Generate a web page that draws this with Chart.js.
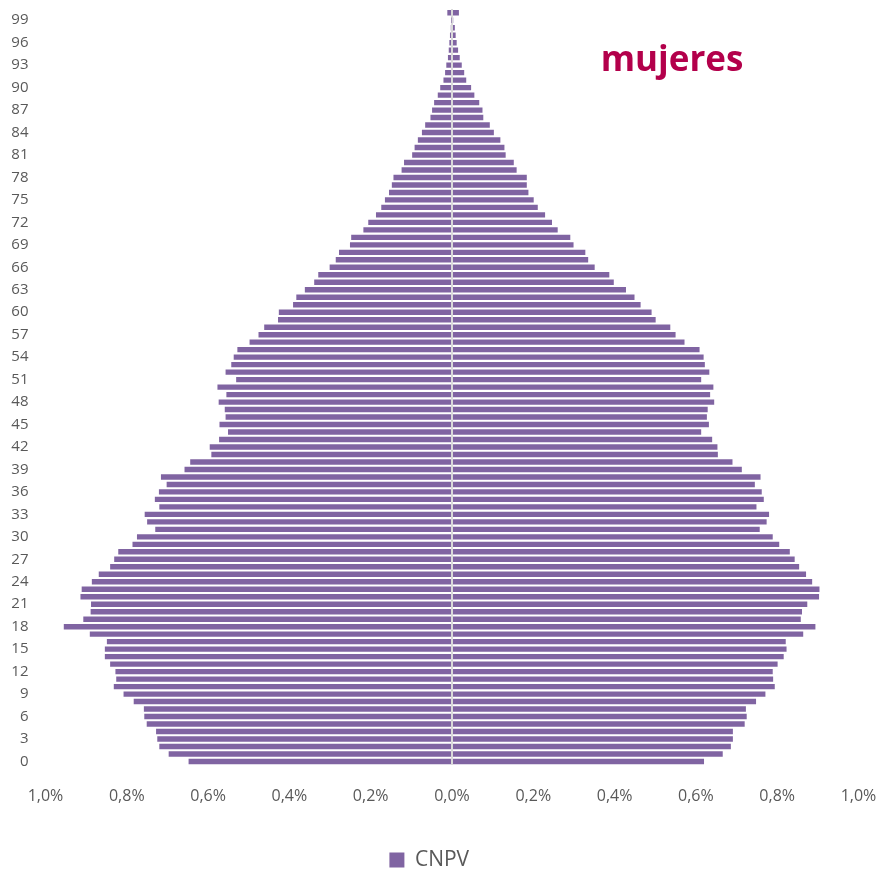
<!DOCTYPE html>
<html>
<head>
<meta charset="utf-8">
<script src="https://cdn.jsdelivr.net/npm/chart.js@4/dist/chart.umd.min.js"></script>
<style>
  html, body { margin: 0; padding: 0; background: #fff; }
  #wrap { width: 882px; height: 871px; position: relative; }
</style>
</head>
<body>
<div id="wrap"><canvas id="myChart" width="882" height="871"></canvas></div>
<script>
// edades simples, 0 a 100 (100 = 100 y más)
const ages = [0,1,2,3,4,5,6,7,8,9,10,11,12,13,14,15,16,17,18,19,20,21,22,23,24,25,26,27,28,29,
  30,31,32,33,34,35,36,37,38,39,40,41,42,43,44,45,46,47,48,49,50,51,52,53,54,55,56,57,58,59,
  60,61,62,63,64,65,66,67,68,69,70,71,72,73,74,75,76,77,78,79,80,81,82,83,84,85,86,87,88,89,
  90,91,92,93,94,95,96,97,98,99,100]

// etiquetas visibles del eje de edades
const ageTicks = [0,3,6,9,12,15,18,21,24,27,30,33,36,39,42,45,48,51,54,57,60,63,66,69,72,75,78,81,84,87,90,93,96,99]

// % de la población total, por edad (lado izquierdo)
const hombres = [0.648,0.697,0.720,0.725,0.728,0.751,0.757,0.758,0.783,0.808,
  0.832,0.826,0.828,0.841,0.854,0.854,0.849,0.891,0.955,0.907,
  0.889,0.888,0.914,0.911,0.886,0.869,0.841,0.831,0.821,0.786,
  0.775,0.730,0.750,0.756,0.720,0.731,0.721,0.702,0.716,0.658,
  0.644,0.592,0.596,0.573,0.551,0.572,0.557,0.559,0.574,0.555,
  0.577,0.531,0.557,0.543,0.537,0.528,0.498,0.476,0.462,0.428,
  0.426,0.391,0.383,0.362,0.339,0.329,0.301,0.286,0.278,0.251,
  0.248,0.218,0.206,0.187,0.174,0.165,0.155,0.148,0.144,0.124,
  0.118,0.098,0.092,0.084,0.074,0.066,0.053,0.049,0.044,0.035,
  0.029,0.021,0.017,0.014,0.010,0.008,0.0065,0.005,0.003,0.001,
  0.0115]

// % de la población total, por edad (lado derecho)
const mujeres = [0.620,0.666,0.686,0.691,0.691,0.720,0.725,0.723,0.748,0.771,
  0.794,0.790,0.789,0.801,0.816,0.823,0.821,0.864,0.894,0.858,
  0.861,0.874,0.903,0.904,0.886,0.871,0.854,0.843,0.831,0.805,
  0.789,0.757,0.774,0.780,0.749,0.767,0.762,0.745,0.759,0.713,
  0.690,0.654,0.653,0.640,0.613,0.632,0.627,0.629,0.645,0.635,
  0.643,0.613,0.633,0.622,0.619,0.609,0.572,0.550,0.537,0.501,
  0.491,0.464,0.449,0.428,0.398,0.387,0.351,0.335,0.328,0.299,
  0.291,0.260,0.246,0.229,0.211,0.201,0.188,0.184,0.184,0.159,
  0.152,0.132,0.129,0.119,0.103,0.093,0.077,0.075,0.067,0.055,
  0.047,0.035,0.030,0.024,0.019,0.015,0.0115,0.009,0.007,0.003,
  0.017]

const barColor = "#8064A2"
const textColor = "#595959"

function fmtPct(v){
    return Math.abs(v).toFixed(1).replace(".", ",") + "%"
}

// titulo "mujeres" dibujado en el canvas
const titlePlugin = {
    id: "titulo",
    afterDraw(chart){
        const ctx = chart.ctx
        ctx.save()
        ctx.font = "bold 35px 'Open Sans'"
        ctx.fillStyle = "#B3004B"
        ctx.textAlign = "center"
        ctx.textBaseline = "alphabetic"
        ctx.fillText("mujeres", 672, 71)
        ctx.restore()
    }
}

// bajar un poco la leyenda
const legendShift = {
    id: "legendShift",
    afterLayout(chart){
        chart.legend.top += 9.5
        chart.legend.bottom += 9.5
    }
}

new Chart("myChart", {
    type: "bar",
    data: {
        labels: ages.map(String),
        datasets: [{
            label: "CNPV",
            data: hombres.map(v => -v),
            backgroundColor: barColor,
            borderWidth: 0,
            barPercentage: 0.72,
            categoryPercentage: 1
        }, {
            label: "CNPV",
            data: mujeres,
            backgroundColor: barColor,
            borderWidth: 0,
            barPercentage: 0.72,
            categoryPercentage: 1
        }]
    },
    plugins: [titlePlugin, legendShift],
    options: {
        indexAxis: "y",
        responsive: false,
        animation: false,
        layout: { padding: { top: 7, right: 23.5, bottom: 0, left: 0 } },
        scales: {
            x: {
                stacked: true,
                min: -1,
                max: 1,
                z: 1,
                border: { display: false },
                grid: {
                    drawTicks: true,
                    tickLength: 21.5,
                    tickColor: "rgba(0,0,0,0)",
                    lineWidth: 2,
                    color: ctx => (ctx.tick && Math.abs(ctx.tick.value) < 1e-9) ? "#D9D9D9" : "rgba(0,0,0,0)"
                },
                ticks: {
                    stepSize: 0.2,
                    padding: 0,
                    color: textColor,
                    font: { family: "'Open Sans'", size: 16 },
                    callback: v => fmtPct(v)
                },
                afterFit: scale => { scale.height = 64.8 }
            },
            y: {
                stacked: true,
                reverse: true,
                border: { display: false },
                grid: {
                    display: true,
                    color: "rgba(0,0,0,0)",
                    drawTicks: true,
                    tickLength: 17,
                    tickColor: "rgba(0,0,0,0)"
                },
                ticks: {
                    autoSkip: false,
                    padding: 0,
                    color: textColor,
                    font: { family: "'Open Sans'", size: 15 },
                    callback: function(v, i){
                        return ageTicks.includes(ages[i]) ? String(ages[i]) : ""
                    }
                },
                afterFit: scale => { scale.width = 45.5 }
            }
        },
        plugins: {
            legend: {
                position: "bottom",
                labels: {
                    color: textColor,
                    font: { family: "'Open Sans'", size: 21 },
                    boxWidth: 15,
                    boxHeight: 15,
                    padding: 10,
                    filter: item => item.datasetIndex === 0
                }
            },
            tooltip: { enabled: false }
        }
    }
})
</script>
</body>
</html>
